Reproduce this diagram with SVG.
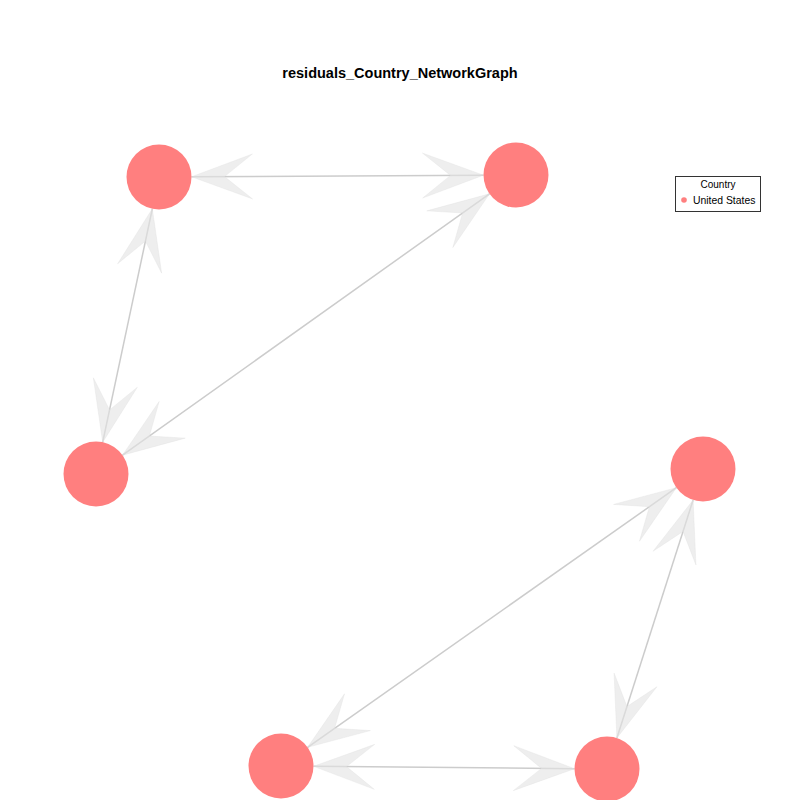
<svg xmlns="http://www.w3.org/2000/svg" width="800" height="800" viewBox="0 0 800 800">
<style>
.edge{stroke:#cccccc;stroke-width:1.5;fill:none;marker-start:url(#ah);marker-end:url(#ah)}
.node{fill:#ff7f7f}
.t{font-family:"Liberation Sans",Arial,sans-serif;fill:#000}
</style>
<defs>
<marker id="ah" markerUnits="userSpaceOnUse" viewBox="-65 -25 70 50" refX="0" refY="0" markerWidth="70" markerHeight="50" orient="auto-start-reverse" overflow="visible">
<path d="M0,0 L-61,-22.5 L-33,0 L-61,22.5 Z" fill="#e2e2e2" fill-opacity="0.6" stroke="#dddddd" stroke-opacity="0.5" stroke-width="0.6"/>
</marker>
</defs>
<rect width="800" height="800" fill="#ffffff"/>
<text class="t" x="400" y="78" font-size="14.5" font-weight="bold" text-anchor="middle">residuals_Country_NetworkGraph</text>
<g id="edges">
<line class="edge" x1="191.5" y1="176.8" x2="483.5" y2="175.2"/>
<line class="edge" x1="152.3" y1="208.8" x2="102.7" y2="442.2"/>
<line class="edge" x1="489.5" y1="193.8" x2="122.5" y2="455.2"/>
<line class="edge" x1="676.4" y1="487.7" x2="307.6" y2="747.3"/>
<line class="edge" x1="693.1" y1="500.0" x2="616.9" y2="738.0"/>
<line class="edge" x1="313.5" y1="766.3" x2="574.5" y2="768.7"/>
</g>
<g id="n1"><circle class="node" cx="159" cy="177" r="32.5"/></g>
<g id="n2"><circle class="node" cx="516" cy="175" r="32.5"/></g>
<g id="n3"><circle class="node" cx="96" cy="474" r="32.5"/></g>
<g id="n4"><circle class="node" cx="703" cy="469" r="32.5"/></g>
<g id="n5"><circle class="node" cx="281" cy="766" r="32.5"/></g>
<g id="n6"><circle class="node" cx="607" cy="769" r="32.5"/></g>
<g id="legend">
<rect x="675.5" y="176.5" width="85" height="35" fill="#ffffff" stroke="#333333" stroke-width="1"/>
<text class="t" x="718" y="188" font-size="10" text-anchor="middle">Country</text>
<circle cx="684" cy="200" r="2.8" fill="#ff7f7f"/>
<text class="t" x="693" y="203.5" font-size="10.4">United States</text>
</g>
</svg>
